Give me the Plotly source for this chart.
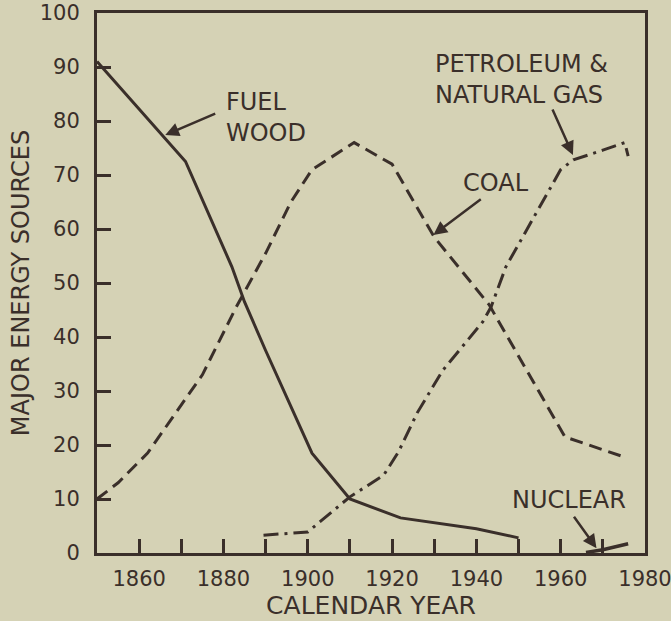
import plotly.graph_objects as go

# values (percent of total energy use)
wood_years = [1850, 1871, 1882, 1885, 1890, 1901, 1910, 1922, 1940, 1950]
wood_share = [91, 72.5, 53, 46.5, 37.5, 18.5, 10, 6.5, 4.5, 2.8]

coal_years = [1850, 1855, 1862, 1875, 1883, 1890, 1896, 1901, 1903, 1911, 1920, 1930, 1943, 1961, 1975]
coal_share = [10, 13, 18.5, 33, 45.5, 55.5, 65, 71, 72, 76, 72, 58.5, 46, 21.5, 17.8]

gas_years = [1889.5, 1900, 1910, 1918, 1921.5, 1926, 1932, 1941.5, 1943.5, 1947, 1960, 1963, 1970, 1975.2, 1976]
gas_share = [3.3, 3.9, 10.4, 14.4, 18.7, 26, 33.8, 42.8, 45.6, 53, 71, 72.8, 74.6, 76, 73.5]

nuclear_years = [1966, 1970, 1976]
nuclear_share = [0.1, 0.6, 1.7]

year_ticks = list(range(1850, 1990, 10))
year_labels = ["" if y % 20 or y == 1850 else str(y) for y in year_ticks]
share_ticks = list(range(0, 110, 10))

INK = "#3a2f2a"
PAPER = "#d5d2b5"
FONT = "DejaVu Sans"

fig = go.Figure()
fig.add_trace(go.Scatter(x=wood_years, y=wood_share, mode="lines",
                         line=dict(color=INK, width=3)))
fig.add_trace(go.Scatter(x=coal_years, y=coal_share, mode="lines",
                         line=dict(color=INK, width=3, dash="13px,7px")))
fig.add_trace(go.Scatter(x=gas_years, y=gas_share, mode="lines",
                         line=dict(color=INK, width=3, dash="15px,6px,3px,6px")))
fig.add_trace(go.Scatter(x=nuclear_years, y=nuclear_share, mode="lines",
                         line=dict(color=INK, width=3.5)))

# labels
labels = [
    ("FUEL<br>WOOD", 1880.2, 80.7, "left"),
    ("COAL", 1944.6, 68.5, "center"),
    ("PETROLEUM &<br>NATURAL GAS", 1929.7, 87.7, "left"),
    ("NUCLEAR", 1961.9, 9.8, "center"),
]
for text, x, y, anchor in labels:
    fig.add_annotation(x=x, y=y, xref="x", yref="y", text=text, showarrow=False,
                       xanchor=anchor, align="left",
                       font=dict(family=FONT, size=24, color=INK))

# arrows: (head x, head y, tail x, tail y)
arrows = [
    (1866.2, 77.4, 1878.4, 81.5),
    (1929.8, 58.9, 1941.4, 65.7),
    (1962.9, 73.7, 1957.9, 82.4),
    (1968.5, 0.9, 1962.9, 7.0),
]
for hx, hy, tx, ty in arrows:
    fig.add_annotation(x=hx, y=hy, ax=tx, ay=ty, xref="x", yref="y",
                       axref="x", ayref="y", text="", showarrow=True,
                       arrowhead=2, arrowsize=1.1, arrowwidth=2.5,
                       arrowcolor=INK, standoff=0, startstandoff=0)

fig.update_layout(
    width=671, height=621,
    margin=dict(l=97, r=26, t=13, b=68),
    paper_bgcolor=PAPER, plot_bgcolor=PAPER,
    showlegend=False,
    font=dict(family=FONT, color=INK, size=21),
)
fig.update_xaxes(
    range=[1850, 1980], tickvals=year_ticks, ticktext=year_labels,
    ticks="inside", ticklen=14, tickwidth=2.5, tickcolor=INK,
    showline=True, linewidth=3, linecolor=INK, mirror=True,
    showgrid=False, zeroline=False, automargin=False,
    tickfont=dict(size=21), ticklabelstandoff=5, ticklabeloverflow="allow",
    title=dict(text="CALENDAR YEAR", font=dict(size=25), standoff=6),
)
fig.update_yaxes(
    range=[0, 100], tickvals=share_ticks,
    ticks="inside", ticklen=14, tickwidth=2.5, tickcolor=INK,
    showline=True, linewidth=3, linecolor=INK, mirror=True,
    showgrid=False, zeroline=False, automargin=False,
    tickfont=dict(size=21), ticklabelstandoff=10, ticklabeloverflow="allow",
    title=dict(text="MAJOR ENERGY SOURCES", font=dict(size=24), standoff=4),
)

fig.write_html("out.html", config={"displayModeBar": False},
               post_script="document.body.style.margin='0';"
               "document.body.style.background='%s';" % PAPER)
